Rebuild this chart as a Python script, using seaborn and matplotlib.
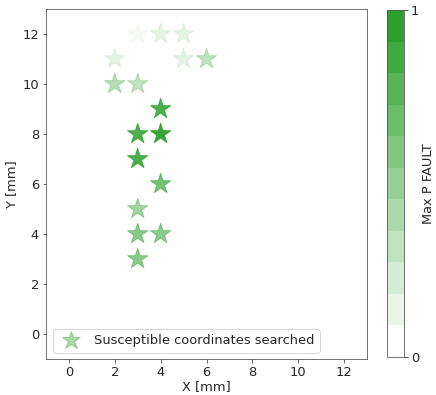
import numpy as np
import pandas as pd
import matplotlib
matplotlib.use("Agg")
import matplotlib.pyplot as plt
import seaborn as sns
from matplotlib.colors import ListedColormap, BoundaryNorm, to_rgb
from matplotlib.lines import Line2D
from matplotlib.cm import ScalarMappable

# Searched coordinates and their maximum fault probability
x_mm = [3, 4, 5, 2, 5, 6, 2, 3, 4, 3, 4, 3, 4, 3, 3, 4, 3]
y_mm = [12, 12, 12, 11, 11, 11, 10, 10, 9, 8, 8, 7, 6, 5, 4, 4, 3]
p_fault = [0.04, 0.12, 0.12, 0.12, 0.12, 0.3, 0.35, 0.3, 0.85, 0.85, 0.95,
           0.85, 0.65, 0.45, 0.55, 0.55, 0.55]
legend_label = "Susceptible coordinates searched"
cbar_ticks = [0, 1]

sns.set_style("ticks")
plt.rcParams["font.family"] = ["DejaVu Sans"]
plt.rcParams["font.size"] = 13

green = to_rgb("tab:green")
levels = 11
cmap = ListedColormap([(*green, a) for a in np.linspace(0, 1, levels)])
norm = BoundaryNorm(np.linspace(0, 1, levels + 1), levels)

df = pd.DataFrame({"x": x_mm, "y": y_mm, "p": p_fault})

fig = plt.figure(figsize=(436 / 72, 395 / 72), dpi=72)
ax = fig.add_axes([46 / 436, 1 - 359 / 395, 321 / 436, 350 / 395])
cax = fig.add_axes([387 / 436, 1 - 357 / 395, 17 / 436, 347 / 395])

# each star is tab:green with its probability as opacity
colors = [(*green, v) for v in p_fault]
sns.scatterplot(data=df, x="x", y="y", marker="*", s=460, c=colors,
                edgecolor=colors, linewidth=0.8, legend=False, ax=ax)

ax.set_xlim(-1, 13)
ax.set_ylim(-1, 13)
ax.set_xticks(range(0, 13, 2))
ax.set_yticks(range(0, 13, 2))
ax.set_xlabel("X [mm]", fontsize=13, labelpad=1)
ax.set_ylabel("Y [mm]", fontsize=13)
ax.tick_params(labelsize=13, color="#444444")
for s in ax.spines.values():
    s.set_visible(True)
    s.set_color("#555555")

handle = Line2D([], [], linestyle="none", marker="*", markersize=19,
                markerfacecolor=(*green, 0.4), markeredgecolor=(*green, 0.4))
ax.legend([handle], [legend_label], loc="lower left", fontsize=13,
          handletextpad=0.8, borderpad=0.4)

sm = ScalarMappable(norm=norm, cmap=cmap)
cb = fig.colorbar(sm, cax=cax, ticks=cbar_ticks)
cb.ax.minorticks_off()
cb.ax.set_yticklabels(["0", "1"])
cb.set_label("Max P FAULT", fontsize=13, labelpad=3)
cb.outline.set_edgecolor("#555555")
cb.ax.tick_params(labelsize=13)

fig.savefig("out.png", dpi=72)
